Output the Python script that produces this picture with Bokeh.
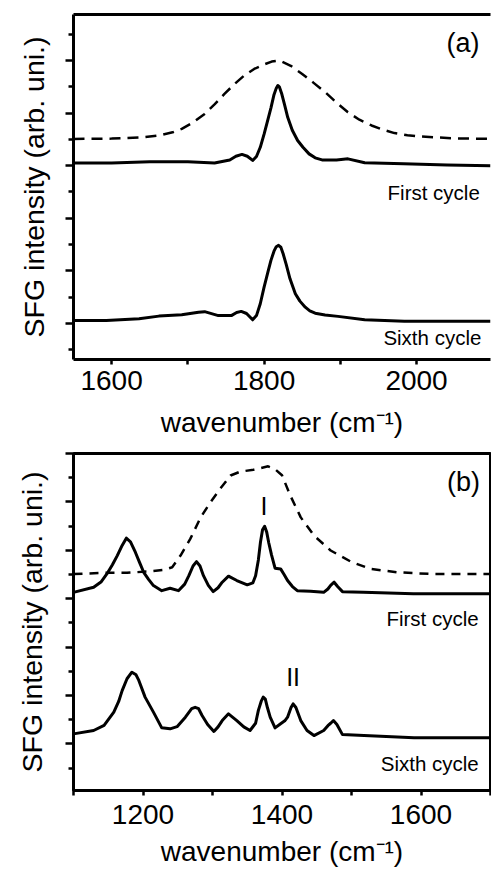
from bokeh.plotting import figure
from bokeh.layouts import column
from bokeh.models import FixedTicker, LinearAxis, Label, Range1d
from bokeh.embed import file_html
from bokeh.resources import INLINE

FONT = "Liberation Sans"

# ---------------- Panel (a) data ----------------
a_first_x = [1550, 1600, 1650, 1700, 1735, 1755, 1763, 1771, 1778, 1785, 1790, 1795, 1800, 1805, 1809,
             1813, 1816, 1818, 1820, 1823, 1827, 1831, 1837, 1844, 1851, 1859, 1867, 1876, 1895, 1910,
             1932, 1983, 2040, 2097]
a_first_y = [6.10, 6.10, 6.15, 6.15, 6.10, 6.22, 6.36, 6.43, 6.36, 6.20, 6.35, 6.70, 7.20, 7.75, 8.20,
             8.70, 8.95, 9.05, 9.00, 8.75, 8.30, 7.84, 7.35, 6.96, 6.70, 6.45, 6.30, 6.22, 6.22, 6.26,
             6.11, 6.07, 6.03, 6.00]

a_sixth_x = [1550, 1593, 1636, 1662, 1692, 1714, 1722, 1740, 1757, 1764, 1770, 1777, 1785, 1790, 1795,
             1800, 1805, 1809, 1813, 1816, 1819, 1822, 1825, 1829, 1834, 1841, 1847, 1854, 1860, 1867,
             1880, 1897, 1932, 1984, 2097]
a_sixth_y = [0.11, 0.11, 0.18, 0.28, 0.33, 0.43, 0.45, 0.30, 0.30, 0.42, 0.46, 0.38, 0.14, 0.30, 0.75,
             1.38, 1.95, 2.40, 2.75, 2.92, 2.97, 2.90, 2.65, 2.25, 1.70, 1.13, 0.85, 0.62, 0.48, 0.39,
             0.32, 0.27, 0.14, 0.08, 0.08]

a_ref_x = [1550, 1600, 1640, 1662, 1680, 1692, 1707, 1722, 1735, 1748, 1761, 1774, 1787, 1800, 1810, 1820,
           1835, 1850, 1865, 1880, 1895, 1910, 1925, 1941, 1956, 1971, 1988, 2005, 2050, 2097]
a_ref_y = [7.02, 7.03, 7.08, 7.15, 7.27, 7.40, 7.65, 7.97, 8.33, 8.73, 9.10, 9.43, 9.68, 9.85, 9.96, 10.0,
           9.80, 9.49, 9.15, 8.80, 8.40, 8.03, 7.75, 7.53, 7.37, 7.24, 7.16, 7.11, 7.04, 7.02]

a_xticks = [1600, 1800, 2000]
a_xminor = [1700, 1900]
a_yticks = [0, 2, 4, 6, 8, 10]
a_yminor = [-1, 1, 3, 5, 7, 9, 11]

# ---------------- Panel (b) data ----------------
b_first_x = [1100, 1129, 1140, 1148, 1156, 1163, 1170, 1176, 1182, 1189, 1195, 1201, 1208, 1215, 1227,
             1239, 1251, 1260, 1266, 1272, 1277, 1282, 1287, 1294, 1301, 1308, 1314, 1323, 1335, 1350,
             1358, 1362, 1366, 1369, 1372, 1375, 1378, 1381, 1385, 1390, 1398, 1403, 1408, 1415, 1422,
             1441, 1460, 1466, 1470, 1475, 1480, 1487, 1517, 1589, 1700]
b_first_y = [6.26, 6.47, 6.70, 7.02, 7.40, 7.78, 8.20, 8.50, 8.35, 7.92, 7.50, 7.09, 6.80, 6.54, 6.33,
             6.43, 6.33, 6.60, 6.95, 7.35, 7.53, 7.35, 6.95, 6.55, 6.29, 6.45, 6.68, 6.93, 6.75, 6.57,
             6.65, 6.95, 7.60, 8.33, 8.85, 8.99, 8.75, 8.30, 7.80, 7.26, 7.23, 7.00, 6.75, 6.50, 6.33,
             6.31, 6.26, 6.40, 6.55, 6.68, 6.50, 6.29, 6.26, 6.20, 6.20]

b_sixth_x = [1100, 1129, 1144, 1158, 1165, 1170, 1177, 1184, 1190, 1194, 1203, 1215, 1227, 1239, 1249,
             1261, 1270, 1275, 1280, 1285, 1293, 1302, 1308, 1314, 1323, 1335, 1345, 1354, 1362, 1366,
             1370, 1373, 1376, 1379, 1383, 1390, 1398, 1404, 1408, 1413, 1416, 1420, 1427, 1436, 1446,
             1460, 1466, 1470, 1474, 1479, 1487, 1518, 1590, 1700]
b_sixth_y = [0.41, 0.55, 0.76, 1.31, 1.75, 2.20, 2.69, 2.96, 2.85, 2.62, 1.93, 1.31, 0.66, 0.62, 0.71,
             1.10, 1.45, 1.51, 1.45, 1.17, 0.80, 0.51, 0.70, 0.96, 1.24, 0.96, 0.70, 0.55, 0.85, 1.38,
             1.75, 1.93, 1.85, 1.50, 1.10, 0.66, 0.83, 0.95, 1.10, 1.50, 1.65, 1.50, 0.96, 0.55, 0.34,
             0.55, 0.75, 0.85, 0.96, 0.80, 0.38, 0.34, 0.25, 0.25]

b_ref_x = [1100, 1148, 1177, 1211, 1230, 1242, 1254, 1268, 1283, 1297, 1311, 1326, 1340, 1359, 1380,
           1390, 1400, 1412, 1427, 1446, 1470, 1499, 1527, 1566, 1614, 1700]
b_ref_y = [7.02, 7.07, 7.07, 7.13, 7.19, 7.30, 7.78, 8.47, 9.36, 9.98, 10.54, 11.09, 11.25, 11.33, 11.47,
           11.35, 11.10, 10.26, 9.36, 8.61, 7.99, 7.53, 7.23, 7.09, 7.02, 7.02]

b_xticks = [1200, 1400, 1600]
b_xminor = [1100, 1300, 1500, 1700]
b_yticks = [0, 2, 4, 6, 8, 10, 12]
b_yminor = [-1, 1, 3, 5, 7, 9, 11]

XLABEL = "wavenumber (cm\u207b\u00b9)"
YLABEL = "SFG intensity (arb. uni.)"


def style(p, xt, xm, yt, ym, xl_standoff, xax_standoff, yax_standoff):
    p.xgrid.visible = False
    p.ygrid.visible = False
    p.background_fill_color = "white"
    p.border_fill_color = "white"
    xa = p.xaxis[0]
    ya = p.yaxis[0]
    xa.ticker = FixedTicker(ticks=xt, minor_ticks=xm)
    ya.ticker = FixedTicker(ticks=yt, minor_ticks=ym)
    for ax in (xa, ya):
        ax.axis_line_color = "black"
        ax.axis_line_width = 3
        ax.major_tick_line_color = "black"
        ax.minor_tick_line_color = "black"
        ax.major_tick_line_width = 2.5
        ax.minor_tick_line_width = 2.5
        ax.major_tick_in = 0
        ax.minor_tick_in = 0
        ax.axis_label_text_font = FONT
        ax.axis_label_text_font_style = "normal"
        ax.axis_label_text_font_size = "28px"
        ax.axis_label_text_color = "black"
        ax.major_label_text_font = FONT
    xa.major_label_text_color = "black"
    xa.major_tick_out = 5
    xa.minor_tick_out = 5
    xa.major_label_text_font_size = "28px"
    xa.major_label_standoff = xl_standoff
    xa.axis_label = XLABEL
    xa.axis_label_standoff = xax_standoff
    ya.major_tick_out = 8
    ya.minor_tick_out = 5
    ya.major_label_text_font_size = "1px"
    ya.major_label_text_color = None
    ya.major_label_standoff = 0
    ya.axis_label = YLABEL
    ya.axis_label_text_font_size = "28.5px"
    ya.axis_label_standoff = yax_standoff


def border_axis(p, side):
    ax = LinearAxis(ticker=FixedTicker(ticks=[]), axis_line_width=3, axis_line_color="black",
                    major_tick_out=0, minor_tick_out=0, major_tick_in=0, minor_tick_in=0,
                    major_label_text_font_size="1px", major_label_text_color=None,
                    major_label_standoff=0, axis_label=None)
    p.add_layout(ax, side)


def add_label(p, x, y, text, size, align):
    p.add_layout(Label(x=x, y=y, text=text, text_font=FONT, text_font_size=size,
                       text_align=align, text_baseline="middle", text_color="black"))


# ---------------- Figure (a) ----------------
p1 = figure(width=491, height=441, x_range=Range1d(1550, 2097), y_range=Range1d(-1.37, 11.75),
            output_backend="svg", toolbar_location=None,
            min_border_left=68, min_border_right=0, min_border_top=14, min_border_bottom=82)
p1.outline_line_color = None
style(p1, a_xticks, a_xminor, a_yticks, a_yminor, 6, 14, 16)
border_axis(p1, "above")

p1.line(a_ref_x, a_ref_y, line_color="black", line_width=2.5, line_dash="11 7")
p1.line(a_first_x, a_first_y, line_color="black", line_width=3, line_join="round")
p1.line(a_sixth_x, a_sixth_y, line_color="black", line_width=3, line_join="round")

add_label(p1, 2061, 10.65, "(a)", "27px", "center")
add_label(p1, 2083, 4.98, "First cycle", "20.5px", "right")
add_label(p1, 2085, -0.53, "Sixth cycle", "20.5px", "right")

# ---------------- Figure (b) ----------------
p2 = figure(width=491, height=428, x_range=Range1d(1100, 1700), y_range=Range1d(-1.93, 12.0),
            output_backend="svg", toolbar_location=None,
            min_border_left=73, min_border_right=1, min_border_top=12, min_border_bottom=79)
p2.outline_line_color = "black"
p2.outline_line_width = 3
p2.outline_line_alpha = 1.0
style(p2, b_xticks, b_xminor, b_yticks, b_yminor, 9, 9, 18)

p2.line(b_ref_x, b_ref_y, line_color="black", line_width=2.5, line_dash="9 7")
p2.line(b_first_x, b_first_y, line_color="black", line_width=3, line_join="round")
p2.line(b_sixth_x, b_sixth_y, line_color="black", line_width=3, line_join="round")

add_label(p2, 1661, 10.81, "(b)", "27px", "center")
add_label(p2, 1374, 9.85, "I", "25px", "center")
add_label(p2, 1416, 2.78, "II", "25px", "center")
add_label(p2, 1683, 5.17, "First cycle", "20.5px", "right")
add_label(p2, 1683, -0.83, "Sixth cycle", "20.5px", "right")

layout = column(p1, p2, spacing=0)
open("out.html", "w").write(file_html(layout, INLINE))
